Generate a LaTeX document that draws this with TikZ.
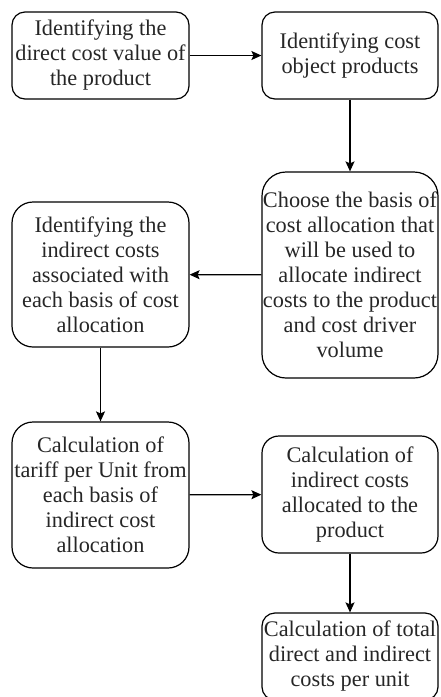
\documentclass[tikz,border=0pt]{standalone}
\usepackage{fontspec}
\setmainfont{Liberation Serif}
\usetikzlibrary{arrows.meta}
\begin{document}
\begin{tikzpicture}[x=1pt,y=-1pt,
  box/.style={draw=black, line width=1.2pt, inner sep=0pt, align=center,
    text=black!85, font=\fontsize{22.3}{25}\selectfont},
  conn/.style={draw=black, line width=1.2pt, -{Stealth[length=10pt,width=9pt,inset=2pt]}}]
\useasboundingbox (0,0) rectangle (440,697);
\node[box, rounded corners=13pt, minimum width=177pt, minimum height=87pt] (a) at (100.5,55.5)
  {Identifying the\\direct cost value of\\the product};
\node[box, rounded corners=13pt, minimum width=176pt, minimum height=87pt] (b) at (350,55.5)
  {Identifying cost\\object products};
\node[box, rounded corners=24pt, minimum width=176pt, minimum height=206pt] (c) at (350,275)
  {Choose the basis of\\cost allocation that\\will be used to\\allocate indirect\\costs to the product\\and cost driver\\volume};
\node[box, rounded corners=21pt, minimum width=177pt, minimum height=145pt] (d) at (100.5,274.5)
  {Identifying the\\indirect costs\\associated with\\each basis of cost\\allocation};
\node[box, rounded corners=21pt, minimum width=177pt, minimum height=146pt] (e) at (100.5,495)
  {Calculation of\\tariff per Unit from\\each basis of\\indirect cost\\allocation};
\node[box, rounded corners=17pt, minimum width=176pt, minimum height=117pt] (f) at (350,494.5)
  {Calculation of\\indirect costs\\allocated to the\\product};
\node[box, rounded corners=13pt, minimum width=176pt, minimum height=87pt] (g) at (350,656.5)
  {Calculation of total\\direct and indirect\\costs per unit};
\draw[conn] (a) -- (b);
\draw[conn] (b) -- (c);
\draw[conn] (c) -- (d);
\draw[conn] (d) -- (e);
\draw[conn] (e) -- (f);
\draw[conn] (f) -- (g);
\end{tikzpicture}
\end{document}
